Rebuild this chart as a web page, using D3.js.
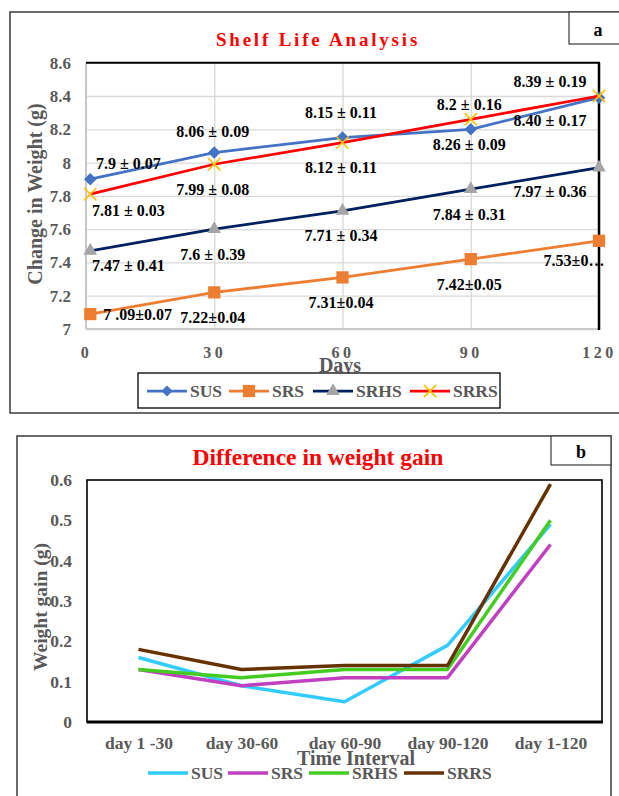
<!DOCTYPE html>
<html>
<head>
<meta charset="utf-8">
<script src="https://cdn.jsdelivr.net/npm/d3@7"></script>
<style>
  body { margin: 0; background: #fff; }
  svg text { font-family: "Liberation Serif", "Times New Roman", serif; font-weight: bold; }
</style>
</head>
<body>
<div id="chart"></div>
<script>
// ---- data: panel a (shelf life) ----
const days = [1, 30, 60, 90, 120];
const susA = [7.9, 8.06, 8.15, 8.2, 8.39];
const srsA = [7.09, 7.22, 7.31, 7.42, 7.53];
const srhsA = [7.47, 7.6, 7.71, 7.84, 7.97];
const srrsA = [7.81, 7.99, 8.12, 8.26, 8.40];
const susLabels = ["7.9 ± 0.07", "8.06 ± 0.09", "8.15 ± 0.11", "8.2 ± 0.16", "8.39 ± 0.19"];
const srsLabels = ["7 .09±0.07", "7.22±0.04", "7.31±0.04", "7.42±0.05", "7.53±0…"];
const srhsLabels = ["7.47 ± 0.41", "7.6 ± 0.39", "7.71 ± 0.34", "7.84 ± 0.31", "7.97 ± 0.36"];
const srrsLabels = ["7.81 ± 0.03", "7.99 ± 0.08", "8.12 ± 0.11", "8.26 ± 0.09", "8.40 ± 0.17"];
const yTicksA = [7, 7.2, 7.4, 7.6, 7.8, 8, 8.2, 8.4, 8.6];
const xTicksA = [0, 30, 60, 90, 120];

// ---- data: panel b (difference in weight gain) ----
const intervals = ["day 1 -30", "day 30-60", "day 60-90", "day 90-120", "day 1-120"];
const susB = [0.16, 0.09, 0.05, 0.19, 0.49];
const srsB = [0.13, 0.09, 0.11, 0.11, 0.44];
const srhsB = [0.13, 0.11, 0.13, 0.13, 0.50];
const srrsB = [0.18, 0.13, 0.14, 0.14, 0.59];
const yTicksB = [0, 0.1, 0.2, 0.3, 0.4, 0.5, 0.6];

const W = 619, H = 796;
const grey = "#595959";

const svg = d3.select("#chart").append("svg")
  .attr("width", W).attr("height", H)
  .attr("viewBox", [0, 0, W, H]);

// ================= PANEL A =================
const pa = { left: 86, right: 599, top: 62.7, bottom: 329 };

// outer frame + "a" tag
svg.append("rect").attr("x", 10).attr("y", 12).attr("width", 630).attr("height", 401)
  .attr("fill", "none").attr("stroke", "#3a3a3a").attr("stroke-width", 1.5);
svg.append("rect").attr("x", 569).attr("y", 12).attr("width", 60).attr("height", 32)
  .attr("fill", "#fff").attr("stroke", "#3a3a3a").attr("stroke-width", 1.2);
svg.append("text").attr("x", 598).attr("y", 36).attr("text-anchor", "middle")
  .attr("font-size", 18).attr("fill", "#000").text("a");

svg.append("text").attr("x", 318).attr("y", 46).attr("text-anchor", "middle")
  .attr("font-size", 19).attr("letter-spacing", 2.8).attr("fill", "#ff0000")
  .text("Shelf Life Analysis");

const xA = d3.scaleLinear().domain([0, 120]).range([pa.left, pa.right]);
const yA = d3.scaleLinear().domain([7, 8.6]).range([pa.bottom, pa.top]);

// gridlines
svg.append("g")
  .attr("transform", `translate(${pa.left},0)`)
  .call(d3.axisLeft(yA).tickValues(yTicksA).tickSize(-(pa.right - pa.left)).tickFormat(""))
  .call(g => g.select(".domain").remove())
  .call(g => g.selectAll("line").attr("stroke", "#d9d9d9").attr("stroke-width", 1.3));
svg.append("g")
  .attr("transform", `translate(0,${pa.bottom})`)
  .call(d3.axisBottom(xA).tickValues(xTicksA).tickSize(-(pa.bottom - pa.top)).tickFormat(""))
  .call(g => g.select(".domain").remove())
  .call(g => g.selectAll("line").attr("stroke", "#d9d9d9").attr("stroke-width", 1.3));

// plot frame: grey left/bottom, black top/right
svg.append("line").attr("x1", pa.left).attr("x2", pa.left).attr("y1", pa.top).attr("y2", pa.bottom)
  .attr("stroke", "#c8c8c8").attr("stroke-width", 2);
svg.append("line").attr("x1", pa.left).attr("x2", pa.right).attr("y1", pa.bottom).attr("y2", pa.bottom)
  .attr("stroke", "#c8c8c8").attr("stroke-width", 2);
svg.append("line").attr("x1", pa.left).attr("x2", pa.right + 1).attr("y1", pa.top).attr("y2", pa.top)
  .attr("stroke", "#000").attr("stroke-width", 2);
svg.append("line").attr("x1", pa.right).attr("x2", pa.right).attr("y1", pa.top).attr("y2", pa.bottom + 1)
  .attr("stroke", "#000").attr("stroke-width", 2.5);

// axes text
svg.append("g")
  .attr("transform", `translate(${pa.left},0)`)
  .call(d3.axisLeft(yA).tickValues(yTicksA).tickSize(0).tickPadding(15).tickFormat(d3.format("~g")))
  .call(g => g.select(".domain").remove())
  .call(g => g.selectAll("text").attr("font-size", 17).attr("fill", grey)
    .attr("font-family", "Liberation Serif, serif"));
svg.append("g")
  .attr("transform", `translate(0,${pa.bottom})`)
  .call(d3.axisBottom(xA).tickValues(xTicksA).tickSize(0).tickPadding(18))
  .call(g => g.select(".domain").remove())
  .call(g => g.selectAll("text").attr("font-size", 16).attr("letter-spacing", 3.5).attr("fill", grey)
    .attr("font-family", "Liberation Serif, serif"));

svg.append("text").attr("x", 340).attr("y", 372).attr("text-anchor", "middle")
  .attr("font-size", 20).attr("fill", grey).text("Days");
svg.append("text").attr("transform", "translate(42,194) rotate(-90)").attr("text-anchor", "middle")
  .attr("font-size", 20).attr("fill", grey).text("Change in Weight (g)");

const seriesA = [
  { name: "SUS", values: susA, labels: susLabels, line: "#4472c4", mark: "diamond", fill: "#4472c4", side: -1 },
  { name: "SRS", values: srsA, labels: srsLabels, line: "#ed7d31", mark: "square", fill: "#ed7d31", side: 1 },
  { name: "SRHS", values: srhsA, labels: srhsLabels, line: "#002060", mark: "triangle", fill: "#a5a5a5", side: 1 },
  { name: "SRRS", values: srrsA, labels: srrsLabels, line: "#ff0000", mark: "times", fill: "#ffc000", side: 1 }
];

function marker(sel, s) {
  if (s.mark === "diamond") {
    sel.append("path").attr("d", d3.symbol(d3.symbolSquare, 78)())
      .attr("transform", sel.attr("data-t") + " rotate(45)").attr("fill", s.fill);
  } else if (s.mark === "square") {
    sel.append("path").attr("d", d3.symbol(d3.symbolSquare, 150)()).attr("fill", s.fill);
  } else if (s.mark === "triangle") {
    sel.append("path").attr("d", d3.symbol(d3.symbolTriangle, 80)()).attr("fill", s.fill);
  } else {
    sel.append("path").attr("d", d3.symbol(d3.symbolTimes, 100)())
      .attr("fill", "none").attr("stroke", s.fill).attr("stroke-width", 1.6);
  }
}

const lineA = d3.line().x((d, i) => xA(days[i])).y(d => yA(d));

seriesA.forEach(s => {
  svg.append("path").datum(s.values).attr("d", lineA)
    .attr("fill", "none").attr("stroke", s.line).attr("stroke-width", 2.75);
  s.values.forEach((v, i) => {
    const g = svg.append("g").attr("transform", `translate(${xA(days[i])},${yA(v)})`);
    if (s.mark === "diamond") {
      g.append("path").attr("d", d3.symbol(d3.symbolSquare, 78)())
        .attr("transform", "rotate(45)").attr("fill", s.fill);
    } else {
      marker(g, s);
    }
  });
});

// data labels
seriesA.forEach(s => {
  s.values.forEach((v, i) => {
    let dx = -1.5, dy = s.side * 25, anchor = "middle";
    if (i === 0) {
      dx = 38; dy = s.side * 16;
      if (s.name === "SRHS") dy = 14.5;
      if (s.name === "SRS") { dx = 13; dy = 0; anchor = "start"; }
    }
    if (i === 4) {
      dx = -49; dy = s.side * 24;
      if (s.name === "SUS") dy = -16;
      if (s.name === "SRS") { dx = -25; dy = 20; }
    }
    if (s.name === "SUS" && i === 1) dy = -21.5;
    svg.append("text")
      .attr("x", xA(days[i]) + dx).attr("y", yA(v) + dy).attr("dy", "0.35em")
      .attr("text-anchor", anchor).attr("font-size", 16).attr("fill", "#000")
      .text(s.labels[i]);
  });
});

// legend a
svg.append("rect").attr("x", 138).attr("y", 373).attr("width", 362).attr("height", 35)
  .attr("fill", "#fff").attr("stroke", "#000").attr("stroke-width", 1.3);
const legAx = [147, 229, 313, 410];
seriesA.forEach((s, i) => {
  const x0 = legAx[i], yy = 391;
  svg.append("line").attr("x1", x0).attr("x2", x0 + 40).attr("y1", yy).attr("y2", yy)
    .attr("stroke", s.line).attr("stroke-width", 2.75);
  const g = svg.append("g").attr("transform", `translate(${x0 + 20},${yy})`);
  if (s.mark === "diamond") {
    g.append("path").attr("d", d3.symbol(d3.symbolSquare, 60)())
      .attr("transform", "rotate(45)").attr("fill", s.fill);
  } else {
    marker(g, s);
  }
  svg.append("text").attr("x", x0 + 43).attr("y", yy).attr("dy", "0.35em")
    .attr("font-size", 17.5).attr("fill", grey).text(s.name);
});

// ================= PANEL B =================
const pb = { left: 87, right: 602, top: 480, bottom: 722 };

svg.append("rect").attr("x", 17).attr("y", 436).attr("width", 594).attr("height", 380)
  .attr("fill", "none").attr("stroke", "#3a3a3a").attr("stroke-width", 1.5);
svg.append("rect").attr("x", 551).attr("y", 436).attr("width", 60).attr("height", 29)
  .attr("fill", "#fff").attr("stroke", "#3a3a3a").attr("stroke-width", 1.2);
svg.append("text").attr("x", 581).attr("y", 458).attr("text-anchor", "middle")
  .attr("font-size", 18).attr("fill", "#000").text("b");

svg.append("text").attr("x", 318).attr("y", 465).attr("text-anchor", "middle")
  .attr("font-size", 23.5).attr("fill", "#ff0000").text("Difference in weight gain");

const xB = d3.scalePoint().domain(intervals).range([pb.left, pb.right]).padding(0.5);
const yB = d3.scaleLinear().domain([0, 0.6]).range([pb.bottom, pb.top]);

svg.append("rect").attr("x", pb.left).attr("y", pb.top)
  .attr("width", pb.right - pb.left).attr("height", pb.bottom - pb.top)
  .attr("fill", "none").attr("stroke", "#000").attr("stroke-width", 1.6);
svg.append("line").attr("x1", pb.left).attr("x2", pb.right + 1).attr("y1", pb.bottom).attr("y2", pb.bottom)
  .attr("stroke", "#000").attr("stroke-width", 3);

svg.append("g")
  .attr("transform", `translate(${pb.left},0)`)
  .call(d3.axisLeft(yB).tickValues(yTicksB).tickSize(0).tickPadding(15).tickFormat(d3.format("~g")))
  .call(g => g.select(".domain").remove())
  .call(g => g.selectAll("text").attr("font-size", 17.5).attr("fill", grey)
    .attr("font-family", "Liberation Serif, serif"));
svg.append("g")
  .attr("transform", `translate(0,${pb.bottom})`)
  .call(d3.axisBottom(xB).tickSize(0).tickPadding(15))
  .call(g => g.select(".domain").remove())
  .call(g => g.selectAll("text").attr("font-size", 17.5).attr("fill", grey)
    .attr("font-family", "Liberation Serif, serif"));

svg.append("text").attr("x", 356).attr("y", 765).attr("text-anchor", "middle")
  .attr("font-size", 20).attr("fill", grey).text("Time Interval");
svg.append("text").attr("transform", "translate(47,607) rotate(-90)").attr("text-anchor", "middle")
  .attr("font-size", 19.5).attr("fill", grey).text("Weight gain (g)");

const seriesB = [
  { name: "SUS", values: susB, color: "#33ccff" },
  { name: "SRS", values: srsB, color: "#c040c0" },
  { name: "SRHS", values: srhsB, color: "#44cc22" },
  { name: "SRRS", values: srrsB, color: "#663300" }
];
const lineB = d3.line().x((d, i) => xB(intervals[i])).y(d => yB(d));
seriesB.forEach(s => {
  svg.append("path").datum(s.values).attr("d", lineB)
    .attr("fill", "none").attr("stroke", s.color).attr("stroke-width", 3.5)
    .attr("stroke-linejoin", "round");
});

const legBx = [148, 228, 309, 404];
seriesB.forEach((s, i) => {
  const x0 = legBx[i], yy = 773;
  svg.append("line").attr("x1", x0).attr("x2", x0 + 40).attr("y1", yy).attr("y2", yy)
    .attr("stroke", s.color).attr("stroke-width", 3.5);
  svg.append("text").attr("x", x0 + 43).attr("y", yy).attr("dy", "0.35em")
    .attr("font-size", 17.5).attr("fill", grey).text(s.name);
});
</script>
</body>
</html>
